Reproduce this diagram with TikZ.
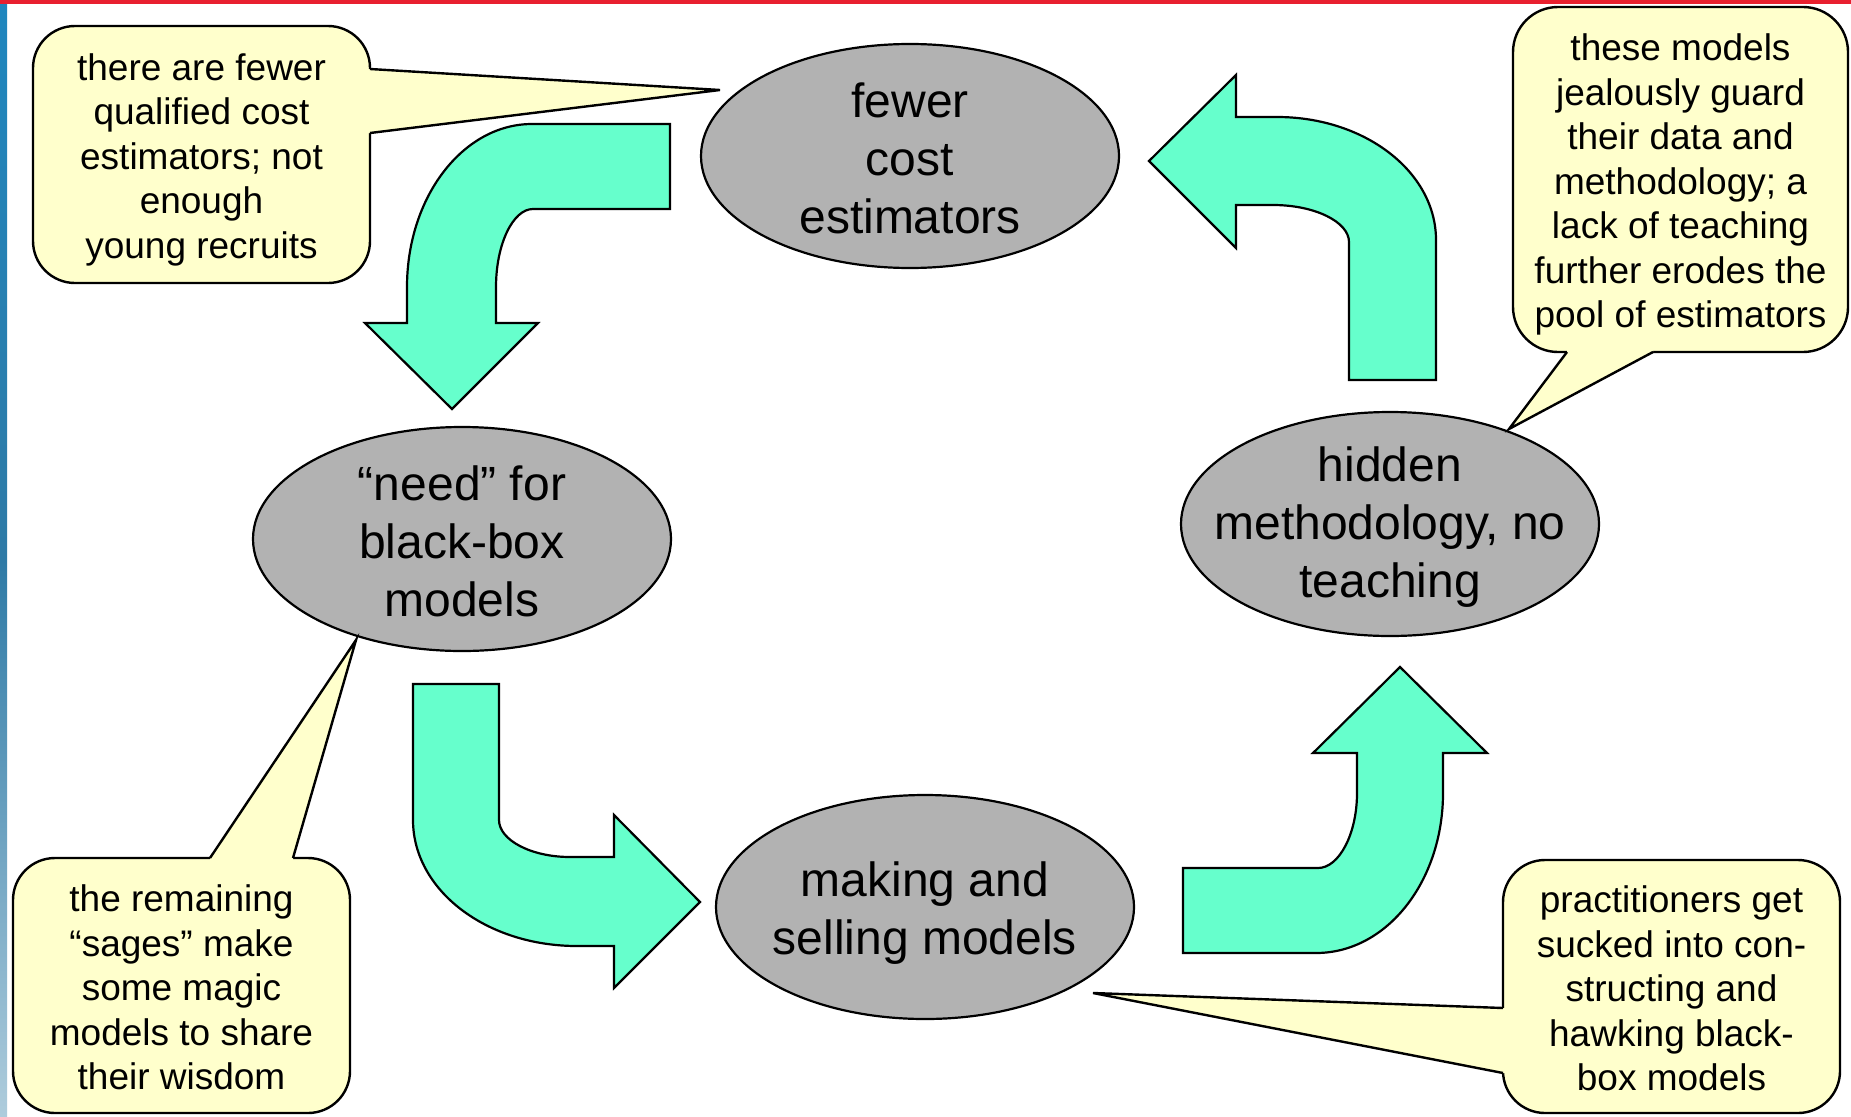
\documentclass[tikz,border=0pt]{standalone}
\usepackage{fontspec}
\setmainfont{Liberation Sans}
\usetikzlibrary{shapes.geometric}
\definecolor{ellgray}{HTML}{B2B2B2}
\definecolor{arrowgreen}{HTML}{66FFCC}
\definecolor{callyellow}{HTML}{FFFFCC}
\definecolor{topred}{HTML}{E8202F}
\definecolor{stripdark}{HTML}{1F86BE}
\definecolor{stripmid}{HTML}{2E7AA6}
\definecolor{striplight}{HTML}{AECCDC}
\begin{document}
\begin{tikzpicture}[x=1pt,y=-1pt,
  stage/.style={ellipse, draw, line width=2.2pt, fill=ellgray, minimum width=418pt,
    minimum height=224pt, inner sep=0pt},
  stagetext/.style={inner sep=0pt, align=center, font=\fontsize{48}{58}\selectfont},
  callout/.style={rectangle, rounded corners=42pt, draw, line width=2.4pt, fill=callyellow,
    inner sep=0pt},
  calltext/.style={inner sep=0pt, align=center, font=\fontsize{37}{44.5}\selectfont},
  ptrfill/.style={fill=callyellow},
  ptrline/.style={line width=2.4pt, line join=miter},
  bentarrow/.style={draw, line width=2.2pt, fill=arrowgreen, line join=miter}]
\fill[white] (0,0) rectangle (1851,1116);
\useasboundingbox (0,0) rectangle (1851,1116);
% frame decorations
\shade[top color=stripdark, bottom color=striplight, middle color=stripmid] (0,4) rectangle (7,1116);
\fill[topred] (0,0) rectangle (1851,4);

% block arrows
\filldraw[bentarrow] (670,124) -- (532,124) .. controls (463,124) and (407,197) .. (407,287)
  -- (407,323) -- (365,323) -- (452,409) -- (538,323) -- (496,323) -- (496,287)
  .. controls (496,244) and (513,209) .. (533,209) -- (670,209) -- cycle;
\filldraw[bentarrow] (1349,380) -- (1349,242) .. controls (1349,222) and (1315,205) .. (1273,205)
  -- (1236,205) -- (1236,248) -- (1149,161) -- (1236,75) -- (1236,117) -- (1277,117)
  .. controls (1365,117) and (1436,172) .. (1436,240) -- (1436,380) -- cycle;
\filldraw[bentarrow] (413,684) -- (499,684) -- (499,820) .. controls (499,840) and (531,857) .. (570,857)
  -- (614,857) -- (614,815) -- (700,902) -- (614,988) -- (614,946) -- (577,946)
  .. controls (486,946) and (413,890) .. (413,820) -- cycle;
\filldraw[bentarrow] (1183,868) -- (1318,868) .. controls (1339,868) and (1357,834) .. (1357,793)
  -- (1357,753) -- (1313,753) -- (1400,667) -- (1487,753) -- (1443,753) -- (1443,793)
  .. controls (1443,881) and (1387,953) .. (1316,953) -- (1183,953) -- cycle;

% stages
\node[stage] (fce) at (910,156) {};
\node[stagetext] (fcet) at ([yshift=-2pt]fce.center) {fewer\\cost\\estimators};
\node[stage] (need) at (462,539) {};
\node[stagetext] (needt) at ([yshift=-2pt]need.center) {“need” for\\black-box\\models};
\node[stage] (make) at (925,907) {};
\node[stagetext] (maket) at ([yshift=-6pt]make.center) {making and\\selling models};
\node[stage] (hid) at (1390,524) {};
\node[stagetext] (hidt) at ([yshift=-3pt]hid.center) {hidden\\methodology, no\\teaching};

% callouts
\node[callout, minimum width=337pt, minimum height=257pt] (c1) at (201.5,154.5) {};
\node[calltext] (c1t) at ([yshift=-5pt]c1.center)
  {there are fewer\\qualified cost\\estimators; not\\enough\\young recruits};
\coordinate (t1) at (720,90);
\fill[ptrfill] (365,69) -- (370,69) -- (t1) -- (370,133) -- (365,133) -- cycle;
\draw[ptrline] (370,69) -- (t1) -- (370,133);

\node[callout, rounded corners=45pt, minimum width=335pt, minimum height=345pt] (c2) at (1680.5,179.5) {};
\node[calltext] (c2t) at ([yshift=-5pt]c2.center)
  {these models\\jealously guard\\their data and\\methodology; a\\lack of teaching\\further erodes the\\pool of estimators};
\coordinate (t2) at (1509,429);
\fill[ptrfill] (1567,347) -- (1567,352) -- (t2) -- (1653,352) -- (1653,347) -- cycle;
\draw[ptrline] (1567,352) -- (t2) -- (1653,352);

\node[callout, minimum width=337pt, minimum height=255pt] (c3) at (181.5,985.5) {};
\node[calltext] (c3t) at ([yshift=-2pt]c3.center)
  {the remaining\\“sages” make\\some magic\\models to share\\their wisdom};
\coordinate (t3) at (356,640);
\fill[ptrfill] (210,863) -- (210,858) -- (t3) -- (293,858) -- (293,863) -- cycle;
\draw[ptrline] (210,858) -- (t3) -- (293,858);

\node[callout, minimum width=337pt, minimum height=253pt] (c4) at (1671.5,986.5) {};
\node[calltext] (c4t) at ([yshift=-2pt]c4.center)
  {practitioners get\\sucked into con-\\structing and\\hawking black-\\box models};
\coordinate (t4) at (1093,993);
\fill[ptrfill] (1508,1008) -- (1503,1008) -- (t4) -- (1503,1073) -- (1508,1073) -- cycle;
\draw[ptrline] (1503,1008) -- (t4) -- (1503,1073);
\end{tikzpicture}
\end{document}
